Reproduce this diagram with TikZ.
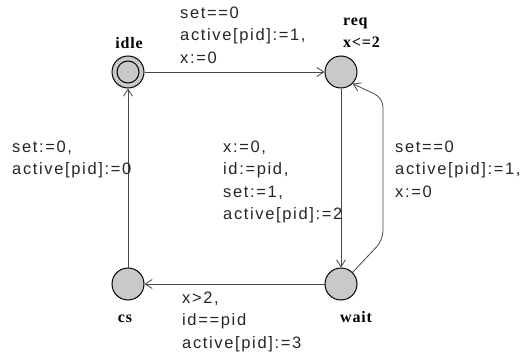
\documentclass[tikz,border=0pt]{standalone}
\usepackage{fontspec}
\usetikzlibrary{arrows.meta}
\newfontfamily\lblfont{Liberation Sans}[LetterSpace=10]
\newfontfamily\stfont{Liberation Serif}[LetterSpace=5]
\tikzset{
  state/.style={circle, draw=black, line width=1pt, fill=gray!42!white, minimum size=32pt, inner sep=0pt},
  edge/.style={draw=black!72, line width=0.8pt, -{Straight Barb[length=7pt,width=9pt,line width=0.8pt]}},
  lbl/.style={anchor=north west, inner sep=0pt, align=left, text=black!85, font=\lblfont\fontsize{16.5}{22.5}\selectfont},
  stlbl/.style={inner sep=0pt, text=black, font=\stfont\bfseries\fontsize{16}{22}\selectfont}
}
\begin{document}
\begin{tikzpicture}[x=1pt,y=-1pt]
\useasboundingbox (0,0) rectangle (520,356);
\node[state] (idle) at (128,72) {};
\draw[black, line width=1pt] (idle.center) circle[radius=11pt];
\node[state] (req) at (341,72) {};
\node[state] (wait) at (341,284) {};
\node[state] (cs) at (128,284) {};
\coordinate (r1) at (383,240);
\coordinate (r2) at (383,98);
% connectors
\draw[edge] (idle) -- (req);
\draw[edge] (req) -- (wait);
\draw[edge] (wait) -- (cs);
\draw[edge] (cs) -- (idle);
\draw[edge, rounded corners=9pt] (wait.45) -- (r1) -- (r2) -- (req.-45);
% state labels
\node[stlbl, anchor=base] (lidle) at (129,48) {idle};
\node[stlbl, anchor=north west, align=left] (lreq) at (343,14) {\rule{0pt}{11pt}req\\x<=2};
\node[stlbl, anchor=base] (lcs) at (125,322) {cs};
\node[stlbl, anchor=base west] (lwait) at (340,322) {wait};
% edge labels
\node[lbl] (t1) at (180,6.5) {\rule{0pt}{11.5pt}set==0\\active[pid]:=1,\\x:=0};
\node[lbl] (t2) at (12,140.5) {\rule{0pt}{11.5pt}set:=0,\\active[pid]:=0};
\node[lbl] (t3) at (223,140.5) {\rule{0pt}{11.5pt}x:=0,\\id:=pid,\\set:=1,\\active[pid]:=2};
\node[lbl] (t4) at (395,140.5) {\rule{0pt}{11.5pt}set==0\\active[pid]:=1,\\x:=0};
\node[lbl] (t5) at (182,291.5) {\rule{0pt}{11.5pt}x>2,\\id==pid\\active[pid]:=3};
\end{tikzpicture}
\end{document}
